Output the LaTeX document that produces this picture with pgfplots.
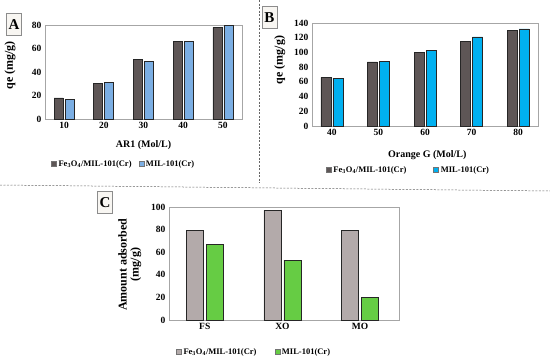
\documentclass[border=0pt]{standalone}
\usepackage{fontspec}
\setmainfont{Liberation Serif}
\usepackage{pgfplots}
\pgfplotsset{compat=1.18}
\definecolor{darkg}{HTML}{5E5656}
\definecolor{lblue}{HTML}{7BAEE3}
\definecolor{sblue}{HTML}{00B0F0}
\definecolor{lgray}{HTML}{B3AAAA}
\definecolor{green}{HTML}{66CC44}
\definecolor{boxfill}{HTML}{F8F6F2}
\pgfplotsset{
  panel/.style={
    scale only axis, ybar, ymin=0, xtick=data,
    axis line style={draw=black!35},
    major tick length=0pt,
    ticklabel style={font=\fontsize{9.5}{10}\selectfont\bfseries},
    xlabel style={font=\fontsize{10}{11}\selectfont\bfseries},
    ylabel style={font=\fontsize{12}{12}\selectfont\bfseries},
    /pgf/number format/assume math mode=true,
    legend style={draw=none, fill=none, font=\fontsize{8.5}{9}\selectfont\bfseries, legend columns=2, anchor=west},
    legend image code/.code={\draw[#1, draw=black!55, line width=0.4pt] (0pt,-2.5pt) rectangle (5pt,2.5pt);},
  }
}
\begin{document}
\begin{tikzpicture}[x=1pt,y=1pt]
\useasboundingbox (0,0) rectangle (550,360);
% separators
\draw[black!60, dash pattern=on 2pt off 1.5pt, line width=0.5pt] (259,360) -- (259,177);
\draw[black!60, dash pattern=on 2pt off 1.5pt, line width=0.5pt] (0,175) -- (550,169);
% panel A
\begin{axis}[panel, at={(45pt,241pt)}, anchor=south west, width=197pt, height=94pt,
  ymax=80, ytick={0,20,40,60,80},
  xmin=-0.48, xmax=4.48, xticklabels={10,20,30,40,50},
  bar width=9pt,
  xlabel={AR1 (Mol/L)}, ylabel={qe (mg/g)},
  xlabel style={at={(axis description cs:0.5,-0.277)}, anchor=center},
  ylabel style={at={(axis description cs:-0.178,0.57)}, anchor=center},
  legend style={at={(axis description cs:0.015,-0.48)}, /tikz/every even column/.append style={column sep=5pt}},
]
\addplot[draw=black!85, line width=0.6pt, fill=darkg, bar shift=-5.5pt] coordinates {(0,18) (1,30) (2,51) (3,66) (4,78)};
\addplot[draw=black!85, line width=0.6pt, fill=lblue, bar shift=5.5pt] coordinates {(0,17) (1,31) (2,49) (3,66) (4,80)};
\legend{Fe\textsubscript{3}O\textsubscript{4}/MIL-101(Cr), MIL-101(Cr)}
\end{axis}
% panel B
\begin{axis}[panel, at={(312pt,234pt)}, anchor=south west, width=226pt, height=103pt,
  ymax=140, ytick={0,20,...,140},
  xmin=-0.43, xmax=4.43, xticklabels={40,50,60,70,80},
  bar width=10pt,
  xlabel={Orange G (Mol/L)}, ylabel={qe (mg/g)},
  xlabel style={at={(axis description cs:0.51,-0.28)}, anchor=center},
  ylabel style={at={(axis description cs:-0.142,0.64)}, anchor=center},
  legend style={at={(axis description cs:0.048,-0.427)}, /tikz/every even column/.append style={column sep=25pt}},
]
\addplot[draw=black!85, line width=0.6pt, fill=darkg, bar shift=-6pt] coordinates {(0,66) (1,87) (2,100) (3,115) (4,130)};
\addplot[draw=black!85, line width=0.6pt, fill=sblue, bar shift=6pt] coordinates {(0,65) (1,88) (2,103) (3,121) (4,132)};
\legend{Fe\textsubscript{3}O\textsubscript{4}/MIL-101(Cr), MIL-101(Cr)}
\end{axis}
% panel C
\begin{axis}[panel, at={(169pt,40pt)}, anchor=south west, width=230pt, height=113pt,
  ymax=100, ytick={0,20,...,100},
  xmin=-0.46, xmax=2.5, xticklabels={FS,XO,MO},
  bar width=17pt,
  ylabel={Amount adsorbed\\(mg/g)},
  ylabel style={at={(axis description cs:-0.17,0.49)}, anchor=center, align=center},
  legend style={at={(axis description cs:0.017,-0.283)}, /tikz/every even column/.append style={column sep=16pt}},
]
\addplot[draw=black!85, line width=0.6pt, fill=lgray, bar shift=-10pt] coordinates {(0,79) (1,97) (2,79)};
\addplot[draw=black!85, line width=0.6pt, fill=green, bar shift=10pt] coordinates {(0,67) (1,53) (2,20)};
\legend{Fe\textsubscript{3}O\textsubscript{4}/MIL-101(Cr), MIL-101(Cr)}
\end{axis}
% panel letters
\tikzset{lettbox/.style={draw=black!45, fill=boxfill, font=\fontsize{15}{15}\selectfont\bfseries, minimum width=15pt, minimum height=22pt, inner sep=0pt}}
\node[lettbox] at (14,335.5) {A};
\node[lettbox] at (269.5,342.5) {B};
\node[lettbox] at (105,157.5) {C};
\end{tikzpicture}
\end{document}
